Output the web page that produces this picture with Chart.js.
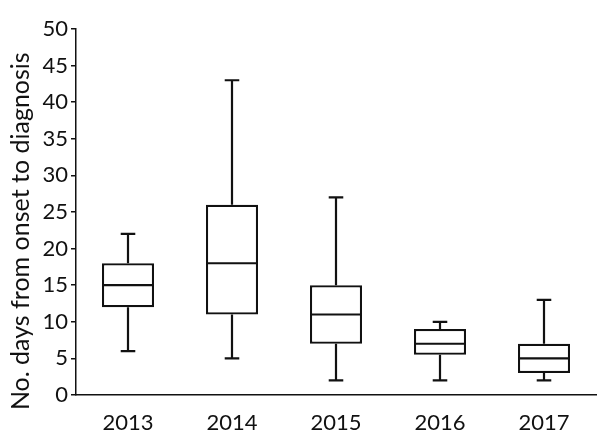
<!DOCTYPE html>
<html>
<head>
<meta charset="utf-8">
<script src="https://cdn.jsdelivr.net/npm/chart.js@4"></script>
<style>
  html, body { margin: 0; padding: 0; background: #fff; }
  #wrap { width: 600px; height: 433px; }
</style>
</head>
<body>
<div id="wrap"><canvas id="chart"></canvas></div>
<script>
// days from symptom onset to diagnosis, per year
const years = ['2013', '2014', '2015', '2016', '2017'];
const whiskerMin = [6, 5, 2, 2, 2];
const q1 = [12, 11, 7, 5.5, 3];
const median = [15, 18, 11, 7, 5];
const q3 = [18, 26, 15, 9, 7];
const whiskerMax = [22, 43, 27, 10, 13];
const yTicks = [0, 5, 10, 15, 20, 25, 30, 35, 40, 45, 50];

const ink = '#111';
const font = 'Lato';

// whiskers + median drawn on top of the floating bars (the boxes)
const boxExtras = {
  id: 'boxExtras',
  afterDatasetsDraw(chart) {
    const {ctx, scales: {x, y}} = chart;
    const meta = chart.getDatasetMeta(0);
    ctx.save();
    ctx.strokeStyle = ink;
    ctx.lineWidth = 2.2;
    meta.data.forEach((bar, i) => {
      const cx = x.getPixelForValue(i);
      const half = bar.width / 2;
      const cap = bar.width * 0.14;
      const yMed = y.getPixelForValue(median[i]);
      const yLo = y.getPixelForValue(q1[i]);
      const yHi = y.getPixelForValue(q3[i]);
      const yMin = y.getPixelForValue(whiskerMin[i]);
      const yMax = y.getPixelForValue(whiskerMax[i]);
      ctx.beginPath();
      ctx.moveTo(cx - half, yMed); ctx.lineTo(cx + half, yMed);
      ctx.moveTo(cx, yHi); ctx.lineTo(cx, yMax);
      ctx.moveTo(cx - cap, yMax); ctx.lineTo(cx + cap, yMax);
      ctx.moveTo(cx, yLo); ctx.lineTo(cx, yMin);
      ctx.moveTo(cx - cap, yMin); ctx.lineTo(cx + cap, yMin);
      ctx.stroke();
    });
    ctx.restore();
  }
};

new Chart(document.getElementById('chart'), {
  type: 'bar',
  data: {
    labels: years,
    datasets: [{
      data: years.map((_, i) => [q1[i], q3[i]]),
      backgroundColor: '#fff',
      borderColor: ink,
      borderWidth: 2.2,
      borderSkipped: false,
      barPercentage: 0.5,
      categoryPercentage: 1
    }]
  },
  options: {
    responsive: true,
    maintainAspectRatio: false,
    animation: false,
    layout: { padding: { top: 29, right: 4, left: 0, bottom: 0 } },
    plugins: { legend: { display: false }, tooltip: { enabled: false } },
    scales: {
      x: {
        grid: { display: false },
        border: { display: true, color: ink, width: 1.5 },
        ticks: { color: ink, padding: 7, font: { family: font, size: 22 } },
        afterFit(scale) { scale.height = 38; }
      },
      y: {
        min: 0,
        max: 50,
        afterBuildTicks(scale) { scale.ticks = yTicks.map(v => ({value: v})); },
        grid: { display: true, drawOnChartArea: false, drawTicks: true, tickLength: 5, color: ink, lineWidth: 1.5 },
        border: { display: true, color: ink, width: 1.5 },
        ticks: { color: ink, padding: 3, font: { family: font, size: 22 } },
        title: {
          display: true,
          // trailing spaces nudge the centred title down, as in the original
          text: 'No. days from onset to diagnosis      ',
          color: ink,
          font: { family: font, size: 25 },
          padding: { top: 6, bottom: 0 }
        },
        afterFit(scale) { scale.width = 76; }
      }
    }
  },
  plugins: [boxExtras]
});
</script>
</body>
</html>
